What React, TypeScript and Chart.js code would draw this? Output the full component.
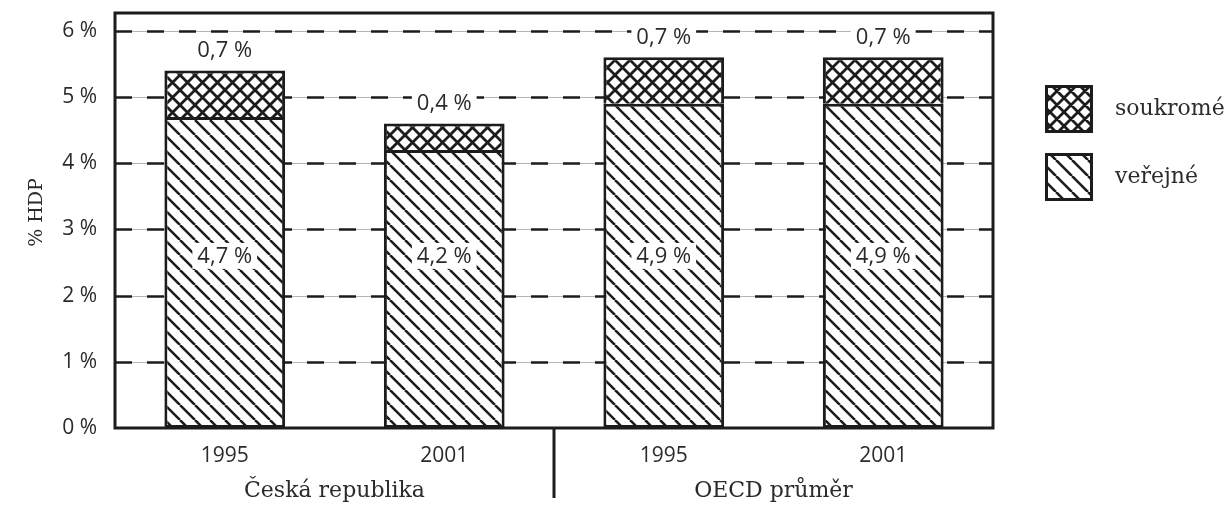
import React, { useEffect, useRef } from 'react';
import { Chart, registerables } from 'chart.js';

Chart.register(...registerables);

// ---------- data ----------
const categories = ['1995', '2001', '1995', '2001'];
const groupLabels = ['Česká republika', 'OECD průměr'];
const publicValues = [4.7, 4.2, 4.9, 4.9];
const privateValues = [0.7, 0.4, 0.7, 0.7];
const seriesNames = ['veřejné', 'soukromé'];
const yAxisTitle = '% HDP';
const yTickValues = [0, 1, 2, 3, 4, 5, 6];
const yMax = 6.27;
const innerLabelLevel = 2.6;

// ---------- styles ----------
const INK = '#1c1c1c';
const TEXT = '#2b2b2b';
const SANS = '"Open Sans", "Noto Sans", sans-serif';
const SERIF = '"DejaVu Serif", serif';

const fmt = (v: number) => v.toFixed(1).replace('.', ',') + ' %';

function makeHatch(period: number, cross: boolean, lw: number): CanvasPattern | string {
  const c = document.createElement('canvas');
  c.width = period;
  c.height = period;
  const g = c.getContext('2d');
  if (!g) return '#fff';
  g.fillStyle = '#ffffff';
  g.fillRect(0, 0, period, period);
  g.strokeStyle = INK;
  g.lineWidth = lw;
  g.beginPath();
  for (let k = -1; k <= 1; k++) {
    g.moveTo(k * period, 0);
    g.lineTo(k * period + period, period);
  }
  if (cross) {
    for (let k = 0; k <= 2; k++) {
      g.moveTo(k * period, 0);
      g.lineTo(k * period - period, period);
    }
  }
  g.stroke();
  const p = g.createPattern(c, 'repeat');
  return p || '#fff';
}

function labelBox(ctx: CanvasRenderingContext2D, text: string, x: number, y: number) {
  ctx.save();
  ctx.font = `22px ${SANS}`;
  const w = ctx.measureText(text).width + 10;
  const h = 26;
  ctx.fillStyle = '#ffffff';
  ctx.fillRect(x - w / 2, y - h / 2, w, h);
  ctx.fillStyle = TEXT;
  ctx.textAlign = 'center';
  ctx.textBaseline = 'middle';
  ctx.fillText(text, x, y + 1);
  ctx.restore();
}

export default function App() {
  const ref = useRef<HTMLCanvasElement | null>(null);

  useEffect(() => {
    if (!ref.current) return;
    const pubFill = makeHatch(15, false, 2.5);
    const privFill = makeHatch(15, true, 2.8);
    const pubLegend = makeHatch(16, false, 2.6);
    const privLegend = makeHatch(14, true, 2.8);

    const decor = {
      id: 'decor',
      beforeDatasetsDraw(chart: any) {
        const { ctx, chartArea: a, scales } = chart;
        const y = scales.y;
        ctx.save();
        yTickValues.forEach((v) => {
          if (v === 0) return;
          const py = Math.round(y.getPixelForValue(v)) + 0.5;
          ctx.setLineDash([]);
          ctx.strokeStyle = '#b4b4b4';
          ctx.lineWidth = 1;
          ctx.beginPath();
          ctx.moveTo(a.left, py);
          ctx.lineTo(a.right, py);
          ctx.stroke();
          ctx.setLineDash([17, 15]);
          ctx.strokeStyle = INK;
          ctx.lineWidth = 2.5;
          ctx.beginPath();
          ctx.moveTo(a.left, py);
          ctx.lineTo(a.right, py);
          ctx.stroke();
        });
        ctx.restore();
      },
      afterDatasetsDraw(chart: any) {
        const { ctx, chartArea: a, scales } = chart;
        const x = scales.x;
        const y = scales.y;
        ctx.save();
        // frame
        ctx.setLineDash([]);
        ctx.strokeStyle = INK;
        ctx.lineWidth = 3;
        ctx.strokeRect(a.left, a.top, a.right - a.left, a.bottom - a.top);

        // y axis title
        ctx.save();
        ctx.translate(a.left - 78, (a.top + a.bottom) / 2 - 8);
        ctx.rotate(-Math.PI / 2);
        ctx.fillStyle = TEXT;
        ctx.font = `19px ${SERIF}`;
        ctx.textAlign = 'center';
        ctx.textBaseline = 'middle';
        ctx.fillText(yAxisTitle, 0, 0);
        ctx.restore();

        // value labels
        categories.forEach((_, i) => {
          const px = x.getPixelForValue(i);
          const topPx = y.getPixelForValue(publicValues[i] + privateValues[i]);
          labelBox(ctx, fmt(privateValues[i]), px, topPx - 21);
          labelBox(ctx, fmt(publicValues[i]), px, y.getPixelForValue(innerLabelLevel));
        });

        // group separator + group labels
        const sepX = (x.getPixelForValue(1) + x.getPixelForValue(2)) / 2;
        ctx.strokeStyle = INK;
        ctx.lineWidth = 3;
        ctx.beginPath();
        ctx.moveTo(sepX, a.bottom);
        ctx.lineTo(sepX, a.bottom + 70);
        ctx.stroke();
        ctx.fillStyle = TEXT;
        ctx.font = `22px ${SERIF}`;
        ctx.textAlign = 'center';
        ctx.textBaseline = 'middle';
        groupLabels.forEach((g, gi) => {
          const gx = (x.getPixelForValue(gi * 2) + x.getPixelForValue(gi * 2 + 1)) / 2;
          ctx.fillText(g, gx, a.bottom + 63);
        });

        // legend
        const items = [
          { name: seriesNames[1], fill: privLegend },
          { name: seriesNames[0], fill: pubLegend },
        ];
        const lx = a.right + 52;
        items.forEach((it, k) => {
          const ly = a.top + 72 + k * 68;
          ctx.fillStyle = it.fill as any;
          ctx.fillRect(lx, ly, 48, 48);
          ctx.strokeStyle = INK;
          ctx.lineWidth = 3;
          ctx.strokeRect(lx + 1.5, ly + 1.5, 45, 45);
          ctx.fillStyle = TEXT;
          ctx.font = `22px ${SERIF}`;
          ctx.textAlign = 'left';
          ctx.textBaseline = 'middle';
          ctx.fillText(it.name, lx + 70, ly + 24);
        });
        ctx.restore();
      },
    };

    const chart = new Chart(ref.current, {
      type: 'bar',
      data: {
        labels: categories,
        datasets: [
          {
            label: seriesNames[0],
            data: publicValues,
            backgroundColor: pubFill as any,
            borderColor: INK,
            borderWidth: 3,
            borderSkipped: false,
            barPercentage: 0.55,
            categoryPercentage: 1,
          },
          {
            label: seriesNames[1],
            data: privateValues,
            backgroundColor: privFill as any,
            borderColor: INK,
            borderWidth: 3,
            borderSkipped: 'start',
            barPercentage: 0.55,
            categoryPercentage: 1,
          },
        ],
      },
      options: {
        responsive: false,
        animation: false,
        layout: { padding: { top: 13, right: 235, left: 0, bottom: 0 } },
        plugins: { legend: { display: false }, tooltip: { enabled: false } },
        scales: {
          x: {
            stacked: true,
            grid: { display: false, drawTicks: false },
            border: { display: false },
            ticks: { font: { family: SANS, size: 21 }, color: TEXT, padding: 15 },
            afterFit: (s: any) => {
              s.height = 82;
              s.paddingLeft = 0;
              s.paddingRight = 0;
            },
          },
          y: {
            stacked: true,
            min: 0,
            max: yMax,
            grid: { display: false, drawTicks: false },
            border: { display: false },
            afterBuildTicks: (s: any) => {
              s.ticks = yTickValues.map((v) => ({ value: v }));
            },
            ticks: {
              font: { family: SANS, size: 21 },
              color: TEXT,
              padding: 18,
              callback: (v: any) => `${v} %`,
            },
            afterFit: (s: any) => {
              s.width = 115;
              s.paddingTop = 0;
              s.paddingBottom = 0;
            },
          },
        },
      },
      plugins: [decor],
    });
    return () => chart.destroy();
  }, []);

  return (
    <div style={{ position: 'absolute', left: 0, top: 0, width: 1228, height: 510, background: '#fff' }}>
      <canvas ref={ref} width={1228} height={510} style={{ display: 'block' }} />
    </div>
  );
}
